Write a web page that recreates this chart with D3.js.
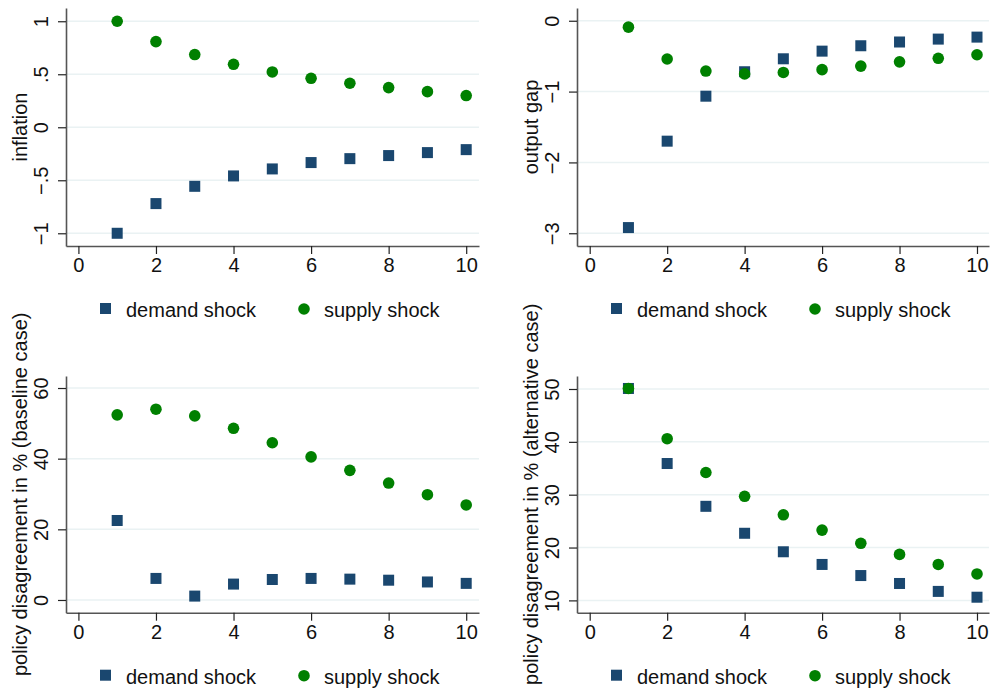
<!DOCTYPE html>
<html>
<head>
<meta charset="utf-8">
<script src="https://cdn.jsdelivr.net/npm/d3@7"></script>
<style>
  html, body { margin: 0; padding: 0; background: #fff; }
  svg { display: block; font-family: "Liberation Sans", Arial, sans-serif; }
</style>
</head>
<body>
<svg id="chart" width="992" height="692"></svg>
<script>
// ---------------- data ----------------
const horizon = [1, 2, 3, 4, 5, 6, 7, 8, 9, 10];
const xTicks = [0, 2, 4, 6, 8, 10];
const seriesNames = ["demand shock", "supply shock"];

const inflationDemand = [-1.0, -0.72, -0.557, -0.459, -0.393, -0.333, -0.296, -0.267, -0.239, -0.211];
const inflationSupply = [1.0, 0.808, 0.686, 0.594, 0.522, 0.462, 0.415, 0.374, 0.336, 0.299];
const inflationTicks = [-1, -0.5, 0, 0.5, 1];

const gapDemand = [-2.92, -1.70, -1.065, -0.72, -0.537, -0.429, -0.353, -0.30, -0.259, -0.231];
const gapSupply = [-0.09, -0.54, -0.71, -0.75, -0.73, -0.69, -0.64, -0.58, -0.53, -0.48];
const gapTicks = [-3, -2, -1, 0];

const baselineDemand = [22.5, 6.1, 1.1, 4.5, 5.8, 6.1, 5.9, 5.6, 5.1, 4.7];
const baselineSupply = [52.4, 54.0, 52.1, 48.6, 44.5, 40.5, 36.7, 33.1, 29.8, 26.9];
const baselineTicks = [0, 20, 40, 60];

const altDemand = [50.1, 35.9, 27.8, 22.7, 19.2, 16.8, 14.7, 13.2, 11.7, 10.6];
const altSupply = [50.1, 40.6, 34.2, 29.7, 26.2, 23.3, 20.8, 18.7, 16.8, 15.0];
const altTicks = [10, 20, 30, 40, 50];

const titles = ["inflation", "output gap", "policy disagreement in % (baseline case)", "policy disagreement in % (alternative case)"];

// ---------------- layout / style ----------------
const NAVY = "#1a476f", GREEN = "#008000", GRID = "#eaf2f3";
const FS = 20;

function fmtTick(v) {
  let s = String(Math.abs(v));
  if (s.startsWith("0.")) s = s.slice(1);
  return (v < 0 ? "\u2212" : "") + s;
}

const panels = [
  { L: 66, R: 479, T: 8, B: 246, xd: [-0.32, 10.33], yd: [-1.12, 1.125], ticks: inflationTicks, demand: inflationDemand, supply: inflationSupply, title: titles[0] },
  { L: 577, R: 989, T: 8, B: 246, xd: [-0.328, 10.31], yd: [-3.18, 0.18], ticks: gapTicks, demand: gapDemand, supply: gapSupply, title: titles[1] },
  { L: 66, R: 479, T: 376, B: 612.7, xd: [-0.32, 10.33], yd: [-3.6, 63.4], ticks: baselineTicks, demand: baselineDemand, supply: baselineSupply, title: titles[2] },
  { L: 577, R: 989, T: 376, B: 612.7, xd: [-0.328, 10.31], yd: [7.67, 52.46], ticks: altTicks, demand: altDemand, supply: altSupply, title: titles[3] }
];

const svg = d3.select("#chart");

panels.forEach(p => {
  const x = d3.scaleLinear().domain(p.xd).range([p.L, p.R]);
  const y = d3.scaleLinear().domain(p.yd).range([p.B, p.T]);
  const g = svg.append("g");

  // gridlines
  g.append("g").selectAll("line").data(p.ticks).join("line")
    .attr("x1", p.L).attr("x2", p.R)
    .attr("y1", d => y(d)).attr("y2", d => y(d))
    .attr("stroke", GRID).attr("stroke-width", 1.5);

  // y axis
  const ya = g.append("g").attr("transform", `translate(${p.L},0)`)
    .call(d3.axisLeft(y).tickValues(p.ticks).tickFormat(fmtTick).tickSize(8).tickSizeOuter(0));
  ya.select(".domain").attr("stroke", "#555").attr("stroke-width", 1.6);
  ya.selectAll(".tick line").attr("stroke", "#222").attr("stroke-width", 1.2);
  ya.selectAll(".tick text")
    .attr("x", 0).attr("y", -18).attr("dy", 0)
    .attr("transform", "rotate(-90)")
    .attr("text-anchor", "middle")
    .attr("font-size", FS).attr("font-family", "Liberation Sans, Arial, sans-serif")
    .attr("fill", "#111");

  // x axis
  const xa = g.append("g").attr("transform", `translate(0,${p.B})`)
    .call(d3.axisBottom(x).tickValues(xTicks).tickFormat(d3.format("d")).tickSize(8).tickSizeOuter(0));
  xa.select(".domain").attr("stroke", "#555").attr("stroke-width", 1.6);
  xa.selectAll(".tick line").attr("stroke", "#222").attr("stroke-width", 1.2);
  xa.selectAll(".tick text")
    .attr("y", 26).attr("dy", 0)
    .attr("font-size", FS).attr("font-family", "Liberation Sans, Arial, sans-serif")
    .attr("fill", "#111");

  // axis title
  g.append("text")
    .attr("transform", `translate(${p.L - 39},${(p.T + p.B) / 2}) rotate(-90)`)
    .attr("text-anchor", "middle")
    .attr("font-size", FS).attr("fill", "#111")
    .text(p.title);

  // markers
  const sq = 11;
  g.append("g").selectAll("rect").data(horizon.map((h, i) => [h, p.demand[i]])).join("rect")
    .attr("x", d => x(d[0]) - sq / 2).attr("y", d => y(d[1]) - sq / 2)
    .attr("width", sq).attr("height", sq).attr("fill", NAVY);
  g.append("g").selectAll("circle").data(horizon.map((h, i) => [h, p.supply[i]])).join("circle")
    .attr("cx", d => x(d[0])).attr("cy", d => y(d[1]))
    .attr("r", 5.8).attr("fill", GREEN);

  // legend
  const lg = g.append("g").attr("transform", `translate(${p.L + 34},${p.B + 57})`);
  lg.append("rect").attr("x", 0).attr("y", 0).attr("width", sq).attr("height", sq).attr("fill", NAVY);
  lg.append("text").attr("x", 26).attr("y", 14).attr("font-size", FS).attr("fill", "#111").text(seriesNames[0]);
  lg.append("circle").attr("cx", 204).attr("cy", 6).attr("r", 5.8).attr("fill", GREEN);
  lg.append("text").attr("x", 224).attr("y", 14).attr("font-size", FS).attr("fill", "#111").text(seriesNames[1]);
});
</script>
</body>
</html>
